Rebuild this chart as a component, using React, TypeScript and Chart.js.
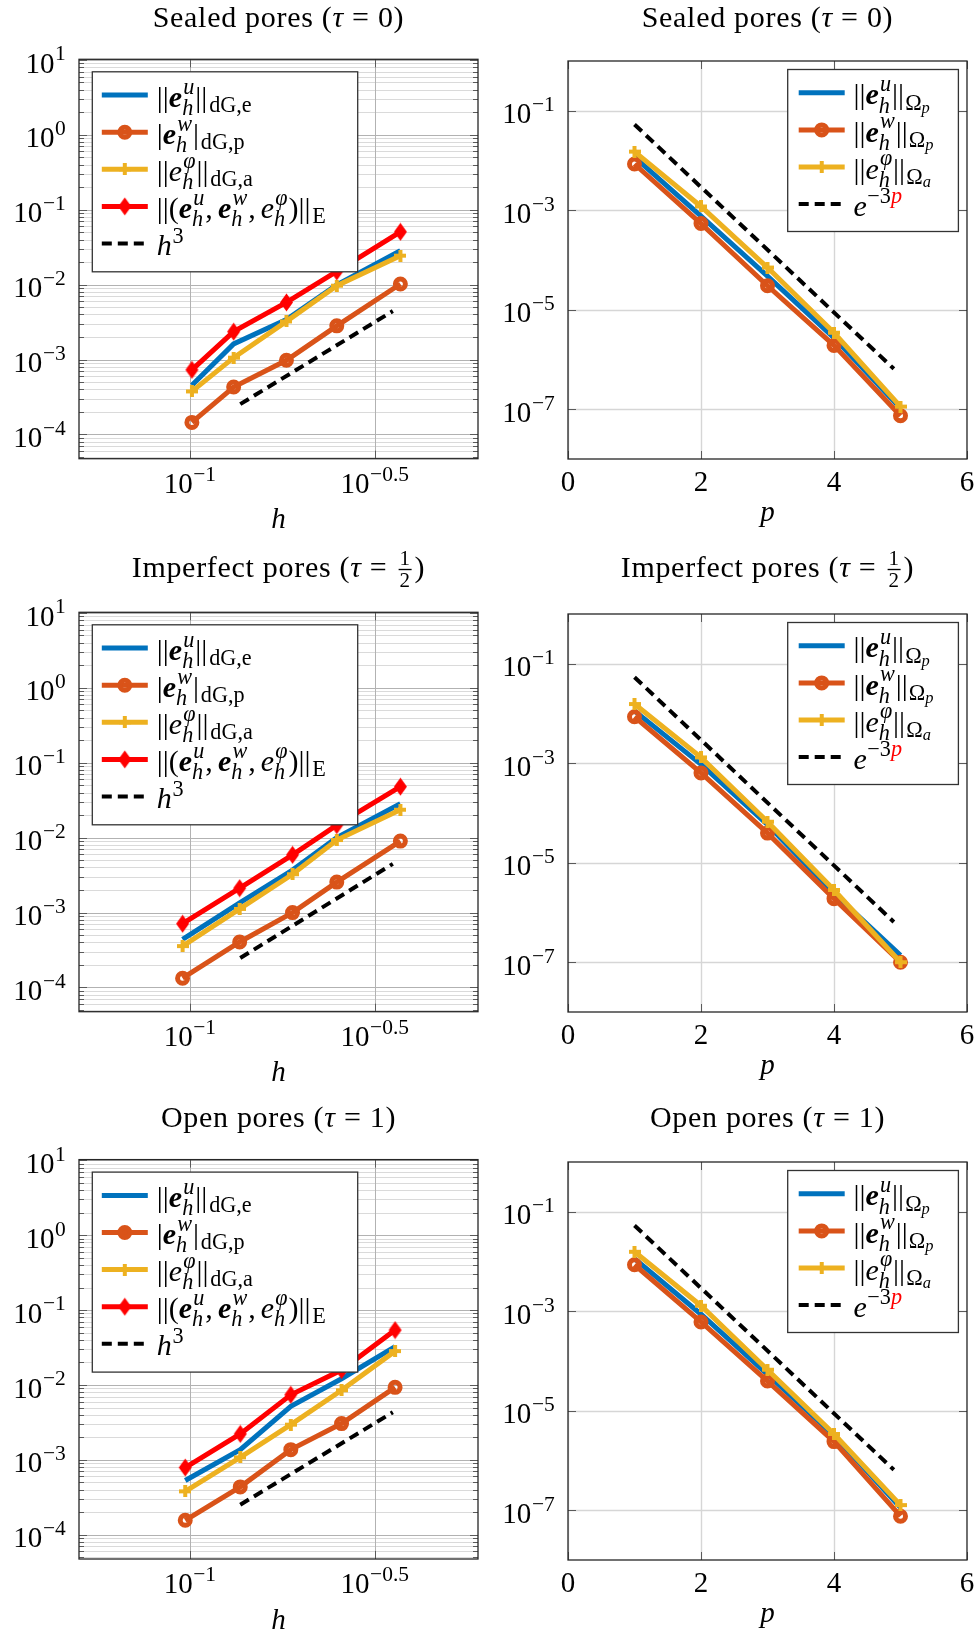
import React, { useEffect, useRef } from 'react';
import { Chart, registerables } from 'chart.js';

Chart.register(...registerables);

// ---------------- data: h-refinement (left column) ----------------
const h_sealed = [0.101, 0.131, 0.182, 0.249, 0.37];
const eu_dg_sealed = [4.53e-4, 1.62e-3, 3.42e-3, 9.9e-3, 2.85e-2];
const ew_dg_sealed = [1.45e-4, 4.3e-4, 9.8e-4, 2.82e-3, 1.02e-2];
const ephi_dg_sealed = [3.76e-4, 1.06e-3, 3.23e-3, 9.7e-3, 2.44e-2];
const energy_sealed = [7.3e-4, 2.36e-3, 5.8e-3, 1.5e-2, 5.07e-2];
const h3_x_sealed = [0.1365, 0.353];
const h3_y_sealed = [2.54e-4, 4.44e-3];

const h_imperfect = [0.0953, 0.136, 0.189, 0.249, 0.37];
const eu_dg_imperfect = [4.4e-4, 1.35e-3, 3.7e-3, 1.0e-2, 2.83e-2];
const ew_dg_imperfect = [1.33e-4, 4.05e-4, 1.0e-3, 2.55e-3, 9.0e-3];
const ephi_dg_imperfect = [3.57e-4, 1.12e-3, 3.25e-3, 9.3e-3, 2.36e-2];
const energy_imperfect = [7.1e-4, 2.12e-3, 5.9e-3, 1.47e-2, 4.8e-2];
const h3_x_imperfect = [0.1365, 0.353];
const h3_y_imperfect = [2.47e-4, 4.47e-3];

const h_open = [0.0969, 0.1365, 0.187, 0.2565, 0.358];
const eu_dg_open = [5.3e-4, 1.37e-3, 5.2e-3, 1.21e-2, 3.25e-2];
const ew_dg_open = [1.56e-4, 4.36e-4, 1.37e-3, 3.05e-3, 9.3e-3];
const ephi_dg_open = [3.8e-4, 1.08e-3, 2.95e-3, 8.5e-3, 2.83e-2];
const energy_open = [7.9e-4, 2.22e-3, 7.4e-3, 1.58e-2, 5.4e-2];
const h3_x_open = [0.1365, 0.353];
const h3_y_open = [2.52e-4, 4.32e-3];

// ---------------- data: p-refinement (right column) ----------------
const p_values = [1, 2, 3, 4, 5];
const eu_p_sealed = [1.17e-2, 7.6e-4, 4.74e-5, 2.72e-6, 1.05e-7];
const ew_p_sealed = [8.5e-3, 5.4e-4, 3.04e-5, 1.92e-6, 7.4e-8];
const ephi_p_sealed = [1.51e-2, 1.19e-3, 7.05e-5, 3.45e-6, 1.13e-7];
const eu_p_imperfect = [1.13e-2, 9.5e-4, 5.86e-5, 2.42e-6, 1.37e-7];
const ew_p_imperfect = [8.6e-3, 6.4e-4, 3.94e-5, 1.9e-6, 1.0e-7];
const ephi_p_imperfect = [1.55e-2, 1.31e-3, 6.67e-5, 2.84e-6, 1.0e-7];
const eu_p_open = [1.14e-2, 8.7e-4, 5.4e-5, 3.2e-6, 1.13e-7];
const ew_p_open = [8.6e-3, 6.1e-4, 3.96e-5, 2.4e-6, 7.6e-8];
const ephi_p_open = [1.57e-2, 1.29e-3, 6.68e-5, 3.41e-6, 1.27e-7];
const exp_x = [1, 4.9];
const exp_y_sealed = [0.053, 6.5e-7];
const exp_y_imperfect = [0.0537, 6.45e-7];
const exp_y_open = [0.053, 6.5e-7];

// ---------------- ticks and ranges ----------------
const hTicks = [0.1, 0.316228];
const hTickExp = ['\u22121', '\u22120.5'];
const errTicksH = [10, 1, 0.1, 0.01, 0.001, 0.0001];
const errTickExpH = ['1', '0', '\u22121', '\u22122', '\u22123', '\u22124'];
const pTicks = [0, 2, 4, 6];
const pTickLabels = ['0', '2', '4', '6'];
const errTicksP = [1e-1, 1e-3, 1e-5, 1e-7];
const errTickExpP = ['\u22121', '\u22123', '\u22125', '\u22127'];
const hRange = [0.05, 0.6];
const errRangeH = [4.75e-5, 10.2];
const pRange = [0, 6];
const errRangeP = [1e-8, 1];

// ---------------- styles ----------------
const BLUE = '#0072BD';
const ORANGE = '#D95319';
const YELLOW = '#EDB120';
const RED = '#FF0000';
const MINOR = '#dadada';
const MAJOR = '#b2b2b2';
const PGRID = '#d6d6d6';
const TICKC = '#5a5a5a';
const FAM = '"Liberation Serif", "DejaVu Serif", serif';
const FS = 29; // tick labels
const LFS = 30; // legend
const TFS = 30; // titles
const SCRIPT = 0.74;

type Tok = { t?: string; s?: 'rm' | 'it' | 'bi'; c?: string; sp?: number; sup?: Tok[]; sub?: Tok[]; frac?: [Tok[], Tok[]] };

const fontOf = (s: string | undefined, size: number) =>
  (s === 'it' ? 'italic ' : s === 'bi' ? 'italic bold ' : '') + size.toFixed(2) + 'px ' + FAM;

function toks(ctx: CanvasRenderingContext2D, list: Tok[], x: number, y: number, size: number, draw: boolean): number {
  let cx = x;
  for (const k of list) {
    if (k.sp !== undefined) { cx += k.sp * size; continue; }
    if (k.t !== undefined) {
      ctx.font = fontOf(k.s, size);
      if (draw) { ctx.fillStyle = k.c || '#000'; ctx.fillText(k.t, cx, y); }
      cx += ctx.measureText(k.t).width;
      continue;
    }
    if (k.frac) {
      const fs = size * 0.7;
      const wn = toks(ctx, k.frac[0], 0, 0, fs, false);
      const wd = toks(ctx, k.frac[1], 0, 0, fs, false);
      const inner = Math.max(wn, wd) + 0.06 * size;
      const pad = 0.1 * size;
      if (draw) {
        toks(ctx, k.frac[0], cx + pad + (inner - wn) / 2, y - 0.394 * size, fs, true);
        toks(ctx, k.frac[1], cx + pad + (inner - wd) / 2, y + 0.345 * size, fs, true);
        ctx.fillStyle = '#000';
        ctx.fillRect(cx + pad, y - 0.25 * size - 0.022 * size, inner, 0.045 * size);
      }
      cx += inner + 2 * pad;
      continue;
    }
    const ss = size * SCRIPT;
    const both = !!(k.sup && k.sub);
    let w1 = 0, w2 = 0;
    if (k.sup) w1 = toks(ctx, k.sup, cx + (both ? 0.04 * size : 0.02 * size), y - size * (both ? 0.44 : 0.42), ss, draw) + (both ? 0.04 * size : 0.02 * size);
    if (k.sub) w2 = toks(ctx, k.sub, cx, y + size * (both ? 0.27 : 0.17), ss, draw);
    cx += Math.max(w1, w2) + 0.03 * size;
  }
  return cx - x;
}

// ---------------- text content ----------------
const eBold = (sup: string): Tok[] => [{ t: 'e', s: 'bi' }, { sup: [{ t: sup, s: 'it' }], sub: [{ t: 'h', s: 'it' }] }];
const ePhi: Tok[] = [{ t: 'e', s: 'it' }, { sup: [{ t: '\u03c6', s: 'it' }], sub: [{ t: 'h', s: 'it' }] }];

const legendH: Tok[][] = [
  [{ t: '||' }, ...eBold('u'), { t: '||' }, { sp: 0.06 }, { sub: [{ t: 'dG,e' }] }],
  [{ t: '|' }, ...eBold('w'), { t: '|' }, { sp: 0.06 }, { sub: [{ t: 'dG,p' }] }],
  [{ t: '||' }, ...ePhi, { t: '||' }, { sp: 0.06 }, { sub: [{ t: 'dG,a' }] }],
  [{ t: '||(' }, ...eBold('u'), { t: ',' }, { sp: 0.17 }, ...eBold('w'), { t: ',' }, { sp: 0.17 }, ...ePhi, { t: ')||' }, { sp: 0.06 }, { sub: [{ t: 'E' }] }],
  [{ t: 'h', s: 'it' }, { sup: [{ t: '3' }] }],
];
const legendP: Tok[][] = [
  [{ t: '||' }, ...eBold('u'), { t: '||' }, { sp: 0.04 }, { sub: [{ t: '\u03a9' }, { sub: [{ t: 'p', s: 'it' }] }] }],
  [{ t: '||' }, ...eBold('w'), { t: '||' }, { sp: 0.04 }, { sub: [{ t: '\u03a9' }, { sub: [{ t: 'p', s: 'it' }] }] }],
  [{ t: '||' }, ...ePhi, { t: '||' }, { sp: 0.04 }, { sub: [{ t: '\u03a9' }, { sub: [{ t: 'a', s: 'it' }] }] }],
  [{ t: 'e', s: 'it' }, { sup: [{ t: '\u22123' }, { t: 'p', s: 'it', c: RED }] }],
];
const legendMarksH = ['blue', 'circle', 'plus', 'diamond', 'dash'];
const legendMarksP = ['blue', 'circle', 'plus', 'dash'];

const titleSealed: Tok[] = [{ t: 'Sealed pores (' }, { t: '\u03c4', s: 'it' }, { t: ' = 0)' }];
const titleImperfect: Tok[] = [{ t: 'Imperfect pores (' }, { t: '\u03c4', s: 'it' }, { t: ' = ' }, { frac: [[{ t: '1' }], [{ t: '2' }]] }, { t: ')' }];
const titleOpen: Tok[] = [{ t: 'Open pores (' }, { t: '\u03c4', s: 'it' }, { t: ' = 1)' }];

// ---------------- markers ----------------
let markerCache: { plus: HTMLCanvasElement; diamond: HTMLCanvasElement } | null = null;
function markers() {
  if (markerCache) return markerCache;
  const plus = document.createElement('canvas');
  plus.width = 12; plus.height = 12;
  const g = plus.getContext('2d')!;
  g.fillStyle = YELLOW;
  g.fillRect(0, 4, 12, 4);
  g.fillRect(4, 0, 4, 12);
  const diamond = document.createElement('canvas');
  diamond.width = 15; diamond.height = 19;
  const d = diamond.getContext('2d')!;
  d.fillStyle = RED;
  d.beginPath();
  d.moveTo(7.5, 0.5); d.lineTo(14, 9.5); d.lineTo(7.5, 18.5); d.lineTo(1, 9.5); d.closePath();
  d.fill();
  markerCache = { plus, diamond };
  return markerCache;
}

function series(xs: number[], ys: number[], color: string, mark: string) {
  const m = markers();
  const base: any = {
    data: xs.map((x, i) => ({ x, y: ys[i] })),
    borderColor: color,
    backgroundColor: color,
    borderWidth: 5,
    fill: false,
    tension: 0,
    borderJoinStyle: 'miter',
    borderCapStyle: 'butt',
    pointHoverRadius: 0,
    pointHitRadius: 0,
  };
  if (mark === 'dash') {
    base.borderWidth = 4;
    base.borderDash = [10, 6];
    base.pointRadius = 0;
  } else if (mark === 'circle') {
    base.pointStyle = 'circle';
    base.pointRadius = 5;
    base.pointBorderWidth = 5;
    base.pointBorderColor = color;
    base.pointBackgroundColor = 'rgba(0,0,0,0)';
  } else if (mark === 'plus') {
    base.pointStyle = m.plus;
    base.pointRadius = 5;
  } else if (mark === 'diamond') {
    base.pointStyle = m.diamond;
    base.pointRadius = 5;
  } else {
    base.pointRadius = 0;
  }
  return base;
}

// ---------------- layout ----------------
const COLS = [{ cx: 0, cw: 489, boxX: 79 }, { cx: 489, cw: 490, boxX: 568 }];
const ROWS = [
  { cy: 0, ch: 545, titleY: 27, boxTop: [59.3, 61] },
  { cy: 545, ch: 550, titleY: 577, boxTop: [612.3, 614] },
  { cy: 1095, ch: 542, titleY: 1127, boxTop: [1159.6, 1162] },
];
const BOX_W = 399;
const BOX_H = [399.4, 398];

type PanelCfg = {
  kind: 'h' | 'p';
  row: number;
  col: number;
  title: Tok[];
  x: number[];
  ys: number[][];
  refX: number[];
  refY: number[];
};

const PANELS: PanelCfg[] = [
  { kind: 'h', row: 0, col: 0, title: titleSealed, x: h_sealed, ys: [eu_dg_sealed, ew_dg_sealed, ephi_dg_sealed, energy_sealed], refX: h3_x_sealed, refY: h3_y_sealed },
  { kind: 'p', row: 0, col: 1, title: titleSealed, x: p_values, ys: [eu_p_sealed, ew_p_sealed, ephi_p_sealed], refX: exp_x, refY: exp_y_sealed },
  { kind: 'h', row: 1, col: 0, title: titleImperfect, x: h_imperfect, ys: [eu_dg_imperfect, ew_dg_imperfect, ephi_dg_imperfect, energy_imperfect], refX: h3_x_imperfect, refY: h3_y_imperfect },
  { kind: 'p', row: 1, col: 1, title: titleImperfect, x: p_values, ys: [eu_p_imperfect, ew_p_imperfect, ephi_p_imperfect], refX: exp_x, refY: exp_y_imperfect },
  { kind: 'h', row: 2, col: 0, title: titleOpen, x: h_open, ys: [eu_dg_open, ew_dg_open, ephi_dg_open, energy_open], refX: h3_x_open, refY: h3_y_open },
  { kind: 'p', row: 2, col: 1, title: titleOpen, x: p_values, ys: [eu_p_open, ew_p_open, ephi_p_open], refX: exp_x, refY: exp_y_open },
];

function minorValues(min: number, max: number) {
  const out: number[] = [];
  for (let e = Math.floor(Math.log10(min)); e <= Math.floor(Math.log10(max)); e++) {
    for (let m = 2; m <= 9; m++) {
      const v = m * Math.pow(10, e);
      if (v > min && v < max) out.push(v);
    }
  }
  return out;
}

function drawSample(ctx: CanvasRenderingContext2D, mark: string, x0: number, x1: number, y: number) {
  const m = markers();
  const col = mark === 'blue' ? BLUE : mark === 'circle' ? ORANGE : mark === 'plus' ? YELLOW : mark === 'diamond' ? RED : '#000';
  ctx.save();
  ctx.strokeStyle = col;
  ctx.lineWidth = mark === 'dash' ? 4 : 5;
  ctx.setLineDash(mark === 'dash' ? [10, 6] : []);
  ctx.beginPath(); ctx.moveTo(x0, y); ctx.lineTo(x1, y); ctx.stroke();
  ctx.setLineDash([]);
  const cx = (x0 + x1) / 2;
  if (mark === 'circle') {
    ctx.lineWidth = 5;
    ctx.beginPath(); ctx.arc(cx, y, 5, 0, Math.PI * 2); ctx.stroke();
  } else if (mark === 'plus') {
    ctx.drawImage(m.plus, cx - m.plus.width / 2, y - m.plus.height / 2);
  } else if (mark === 'diamond') {
    ctx.drawImage(m.diamond, cx - m.diamond.width / 2, y - m.diamond.height / 2);
  }
  ctx.restore();
}

function decoPlugin(cfg: PanelCfg) {
  const row = ROWS[cfg.row];
  return {
    id: 'deco' + cfg.row + cfg.col,
    beforeDatasetsDraw(chart: any) {
      const ctx: CanvasRenderingContext2D = chart.ctx;
      const a = chart.chartArea;
      const xs = chart.scales.x, ys = chart.scales.y;
      ctx.save();
      ctx.beginPath(); ctx.rect(a.left, a.top, a.right - a.left, a.bottom - a.top); ctx.clip();
      const hl = (v: number, col: string, w: number) => {
        const y = Math.round(ys.getPixelForValue(v)) + 0.5;
        ctx.strokeStyle = col; ctx.lineWidth = w;
        ctx.beginPath(); ctx.moveTo(a.left, y); ctx.lineTo(a.right, y); ctx.stroke();
      };
      const vl = (v: number, col: string, w: number) => {
        const x = Math.round(xs.getPixelForValue(v)) + 0.5;
        ctx.strokeStyle = col; ctx.lineWidth = w;
        ctx.beginPath(); ctx.moveTo(x, a.top); ctx.lineTo(x, a.bottom); ctx.stroke();
      };
      if (cfg.kind === 'h') {
        for (const v of minorValues(ys.min, ys.max)) hl(v, MINOR, 1);
        for (const v of errTicksH) if (v >= ys.min && v <= ys.max) hl(v, MAJOR, 1);
        for (const v of hTicks) vl(v, MAJOR, 1);
      } else {
        for (const v of errTicksP) hl(v, PGRID, 1.4);
        for (const v of pTicks) vl(v, PGRID, 1.4);
      }
      ctx.restore();
    },
    afterDatasetsDraw(chart: any) {
      const ctx: CanvasRenderingContext2D = chart.ctx;
      const a = chart.chartArea;
      const xs = chart.scales.x, ys = chart.scales.y;
      ctx.save();
      ctx.textBaseline = 'alphabetic';
      ctx.textAlign = 'left';
      // edge tick marks
      ctx.strokeStyle = TICKC; ctx.lineWidth = 1;
      const yTick = (v: number, len: number) => {
        const y = Math.round(ys.getPixelForValue(v)) + 0.5;
        ctx.beginPath(); ctx.moveTo(a.left, y); ctx.lineTo(a.left + len, y);
        ctx.moveTo(a.right - len, y); ctx.lineTo(a.right, y); ctx.stroke();
      };
      const xTick = (v: number, len: number) => {
        const x = Math.round(xs.getPixelForValue(v)) + 0.5;
        ctx.beginPath(); ctx.moveTo(x, a.bottom); ctx.lineTo(x, a.bottom - len);
        ctx.moveTo(x, a.top); ctx.lineTo(x, a.top + len); ctx.stroke();
      };
      if (cfg.kind === 'h') {
        for (const v of minorValues(ys.min, ys.max)) yTick(v, 5);
        for (const v of errTicksH) if (v >= ys.min && v <= ys.max) yTick(v, 8);
        for (const v of hTicks) xTick(v, 8);
      } else {
        for (const v of errTicksP) yTick(v, 8);
        for (const v of pTicks) xTick(v, 8);
      }
      // frame
      ctx.strokeStyle = '#262626'; ctx.lineWidth = 1.3;
      ctx.strokeRect(a.left, a.top, a.right - a.left, a.bottom - a.top);

      // legend
      const isH = cfg.kind === 'h';
      const lw = isH ? 265.4 : 170.7;
      const lh = isH ? 200 : 162;
      const lx = isH ? a.left + 13.3 : a.right - 8.6 - lw;
      const ly = isH ? a.top + 12.5 : a.top + 8.5;
      ctx.fillStyle = '#fff';
      ctx.fillRect(lx, ly, lw, lh);
      ctx.strokeStyle = '#333'; ctx.lineWidth = 1.3;
      ctx.strokeRect(lx, ly, lw, lh);
      const entries = isH ? legendH : legendP;
      const marks = isH ? legendMarksH : legendMarksP;
      const sx0 = lx + (isH ? 9.5 : 11);
      const tx = lx + (isH ? 64.5 : 65.7);
      entries.forEach((e, i) => {
        const y = ly + 23.3 + 37.1 * i;
        drawSample(ctx, marks[i], sx0, sx0 + 46, y);
        toks(ctx, e, tx, y + 11.6, LFS, true);
      });

      // y tick labels
      const yT = isH ? errTicksH : errTicksP;
      const yE = isH ? errTickExpH : errTickExpP;
      yT.forEach((v, i) => {
        const tk: Tok[] = [{ t: '10' }, { sup: [{ t: yE[i] }] }];
        const w = toks(ctx, tk, 0, 0, FS, false);
        const y = ys.getPixelForValue(v);
        toks(ctx, tk, a.left - 12.4 - w, y + 12.6, FS, true);
      });
      // x tick labels
      if (isH) {
        hTicks.forEach((v, i) => {
          const tk: Tok[] = [{ t: '10' }, { sup: [{ t: hTickExp[i] }] }];
          const w = toks(ctx, tk, 0, 0, FS, false);
          toks(ctx, tk, xs.getPixelForValue(v) - w / 2, a.bottom + 34, FS, true);
        });
      } else {
        pTicks.forEach((v, i) => {
          const tk: Tok[] = [{ t: pTickLabels[i] }];
          const w = toks(ctx, tk, 0, 0, FS, false);
          toks(ctx, tk, xs.getPixelForValue(v) - w / 2, a.bottom + 31.6, FS, true);
        });
      }
      // axis label
      const ax: Tok[] = [{ t: isH ? 'h' : 'p', s: 'it' }];
      const aw = toks(ctx, ax, 0, 0, FS, false);
      toks(ctx, ax, (a.left + a.right) / 2 - aw / 2, a.bottom + (isH ? 69.5 : 62), FS, true);
      // title
      (ctx as any).letterSpacing = '0.7px';
      const tw = toks(ctx, cfg.title, 0, 0, TFS, false);
      toks(ctx, cfg.title, (a.left + a.right) / 2 - tw / 2, row.titleY - row.cy, TFS, true);
      (ctx as any).letterSpacing = '0px';
      ctx.restore();
    },
  };
}

function Panel({ cfg }: { cfg: PanelCfg }) {
  const ref = useRef<HTMLCanvasElement>(null);
  const col = COLS[cfg.col];
  const row = ROWS[cfg.row];
  useEffect(() => {
    const canvas = ref.current!;
    const boxTop = row.boxTop[cfg.col];
    const boxH = BOX_H[cfg.col];
    const padding = {
      left: col.boxX - col.cx,
      right: col.cx + col.cw - (col.boxX + BOX_W),
      top: boxTop - row.cy,
      bottom: row.cy + row.ch - (boxTop + boxH),
    };
    const isH = cfg.kind === 'h';
    const main = isH
      ? [
          series(cfg.x, cfg.ys[0], BLUE, 'none'),
          series(cfg.x, cfg.ys[1], ORANGE, 'circle'),
          series(cfg.x, cfg.ys[2], YELLOW, 'plus'),
          series(cfg.x, cfg.ys[3], RED, 'diamond'),
        ]
      : [
          series(cfg.x, cfg.ys[0], BLUE, 'none'),
          series(cfg.x, cfg.ys[1], ORANGE, 'circle'),
          series(cfg.x, cfg.ys[2], YELLOW, 'plus'),
        ];
    main.push(series(cfg.refX, cfg.refY, '#000', 'dash'));
    const datasets = main.slice().reverse();
    const chart = new Chart(canvas, {
      type: 'line',
      data: { datasets },
      options: {
        animation: false,
        responsive: false,
        devicePixelRatio: 1,
        events: [],
        layout: { padding, autoPadding: false } as any,
        plugins: { legend: { display: false }, tooltip: { enabled: false }, title: { display: false } },
        scales: {
          x: isH
            ? { type: 'logarithmic', min: hRange[0], max: hRange[1], display: false }
            : { type: 'linear', min: pRange[0], max: pRange[1], display: false },
          y: isH
            ? { type: 'logarithmic', min: errRangeH[0], max: errRangeH[1], display: false }
            : { type: 'logarithmic', min: errRangeP[0], max: errRangeP[1], display: false },
        },
      } as any,
      plugins: [decoPlugin(cfg) as any],
    });
    return () => chart.destroy();
  }, []);
  return (
    <canvas
      ref={ref}
      width={col.cw}
      height={row.ch}
      style={{ position: 'absolute', left: col.cx, top: row.cy, width: col.cw, height: row.ch }}
    />
  );
}

export default function App() {
  return (
    <div style={{ position: 'absolute', left: 0, top: 0, width: 979, height: 1637, background: '#fff', overflow: 'hidden' }}>
      {PANELS.map((p, i) => (
        <Panel key={i} cfg={p} />
      ))}
    </div>
  );
}
